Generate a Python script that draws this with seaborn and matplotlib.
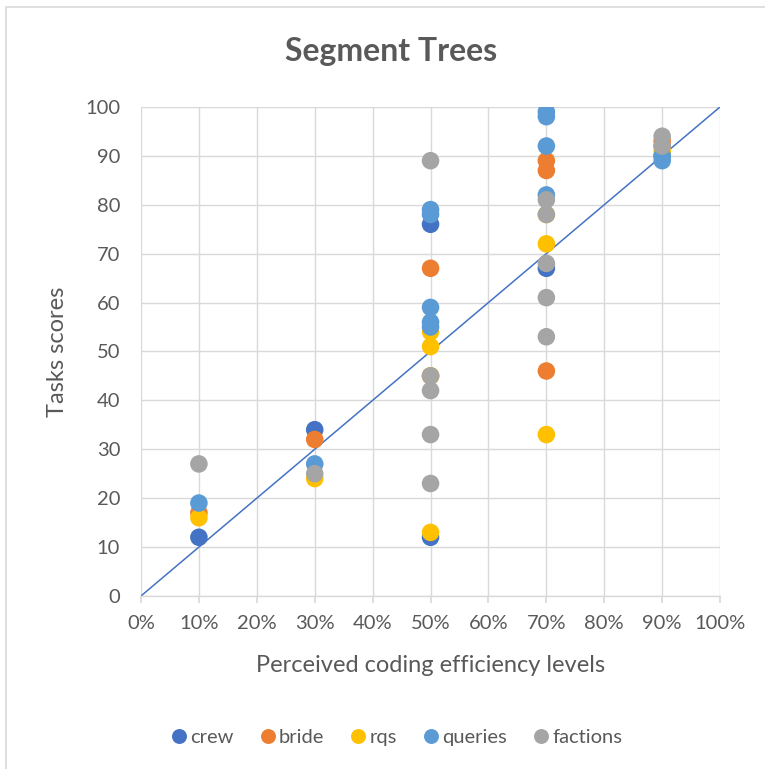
import matplotlib
matplotlib.use("Agg")
import matplotlib.pyplot as plt
import matplotlib.patches as mpatches
from matplotlib.ticker import PercentFormatter, MultipleLocator
import numpy as np
import pandas as pd
import seaborn as sns

# Efficiency level (fraction) and task score per observation, one pair of lists per group
crew_x = [0.1, 0.3, 0.5, 0.5, 0.7, 0.9]
crew_y = [12, 34, 76, 12, 67, 90]

bride_x = [0.1, 0.3, 0.5, 0.5, 0.7, 0.7, 0.7, 0.9, 0.9]
bride_y = [17, 32, 67, 45, 89, 87, 46, 93, 92]

rqs_x = [0.1, 0.3, 0.5, 0.5, 0.5, 0.5, 0.7, 0.7, 0.7, 0.9]
rqs_y = [16, 24, 54, 51, 45, 13, 78, 72, 33, 91]

queries_x = [0.1, 0.3, 0.5, 0.5, 0.5, 0.5, 0.5, 0.7, 0.7, 0.7, 0.7, 0.9, 0.9]
queries_y = [19, 27, 79, 78, 59, 56, 55, 99, 98, 92, 82, 90, 89]

factions_x = [0.1, 0.3, 0.5, 0.5, 0.5, 0.5, 0.5, 0.7, 0.7, 0.7, 0.7, 0.7, 0.9, 0.9]
factions_y = [27, 25, 89, 45, 42, 33, 23, 81, 78, 68, 61, 53, 94, 92]

groups = ["crew", "bride", "rqs", "queries", "factions"]
colors = ["#4472C4", "#ED7D31", "#FFC000", "#5B9BD5", "#A5A5A5"]

# Reference diagonal
diag_x = [0.0, 1.0]
diag_y = [0, 100]

frames = []
for name, xs, ys in zip(groups,
                        [crew_x, bride_x, rqs_x, queries_x, factions_x],
                        [crew_y, bride_y, rqs_y, queries_y, factions_y]):
    frames.append(pd.DataFrame({"level": xs, "score": ys, "group": name}))
df = pd.concat(frames, ignore_index=True)

sns.set_theme(style="white")
plt.rcParams["font.family"] = ["Lato", "DejaVu Sans"]
text_col = "#595959"

fig = plt.figure(figsize=(7.65, 7.69), dpi=100)
ax = fig.add_axes([0.1843, 0.2250, 0.757, 0.636])

ax.plot(diag_x, diag_y, color="#4472C4", lw=1.1, zorder=2)

sns.scatterplot(data=df, x="level", y="score", hue="group", hue_order=groups,
                palette=colors, s=160, edgecolor="none", linewidth=0,
                ax=ax, zorder=3)

ax.set_xlim(0, 1)
ax.set_ylim(0, 100)
ax.xaxis.set_major_locator(MultipleLocator(0.1))
ax.xaxis.set_major_formatter(PercentFormatter(1.0, decimals=0))
ax.yaxis.set_major_locator(MultipleLocator(10))
ax.grid(True, color="#D9D9D9", lw=1.0)
ax.set_axisbelow(True)
for side in ["top", "right", "left"]:
    ax.spines[side].set_visible(False)
ax.spines["bottom"].set_color("#D9D9D9")
ax.spines["bottom"].set_linewidth(1.0)
ax.tick_params(axis="x", bottom=True, length=5, color="#D9D9D9",
               labelsize=14.5, labelcolor=text_col, pad=9)
ax.tick_params(axis="y", left=False, labelsize=14.5, labelcolor=text_col, pad=9)

ax.set_xlabel("Perceived coding efficiency levels", fontsize=17, color=text_col, labelpad=16)
ax.set_ylabel("Tasks scores", fontsize=17, color=text_col, labelpad=12)
fig.text(391 / 765, 1 - 52 / 769, "Segment Trees", fontsize=23, fontweight="bold",
         color=text_col, ha="center", va="center")

handles, labels = ax.get_legend_handles_labels()
ax.legend_.remove()
fig.legend(handles, labels, loc="center", bbox_to_anchor=(0.517, 1 - 737 / 769), ncol=5,
           frameon=False, fontsize=14.5, labelcolor=text_col, handletextpad=0.05,
           columnspacing=1.2, markerscale=0.85, handlelength=1.0)

# Chart-area outline
fig.patches.append(mpatches.Rectangle((6 / 765, -0.1), 1.2, 1.0 - 7 / 769 + 0.1,
                                      transform=fig.transFigure, fill=False,
                                      edgecolor="#D9D9D9", lw=1.2))

fig.savefig("out.png", dpi=100)
